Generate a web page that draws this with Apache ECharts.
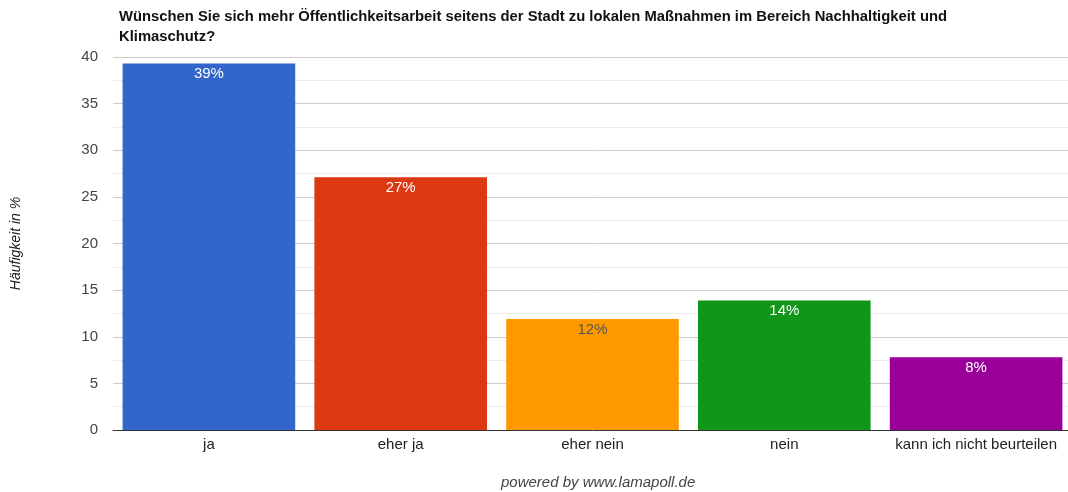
<!DOCTYPE html>
<html>
<head>
<meta charset="utf-8">
<script src="https://cdn.jsdelivr.net/npm/echarts@6/dist/echarts.min.js"></script>
<style>html,body{margin:0;padding:0;background:#fff;overflow:hidden}#c{width:1076px;height:492px}</style>
</head>
<body>
<div id="c"></div>
<script>
const categories = ['ja', 'eher ja', 'eher nein', 'nein', 'kann ich nicht beurteilen'];
const values = [39.3, 27.1, 11.9, 13.9, 7.8];
const colors = ['#3366cc', '#dc3912', '#ff9900', '#109618', '#990099'];
const labelColors = ['#ffffff', '#ffffff', '#555555', '#ffffff', '#ffffff'];
const yTicks = [0, 5, 10, 15, 20, 25, 30, 35, 40];

const font = 'Arial, "Liberation Sans", sans-serif';
const chart = echarts.init(document.getElementById('c'));
chart.setOption({
  animation: false,
  textStyle: { fontFamily: font },
  title: [
    {
      text: 'Wünschen Sie sich mehr Öffentlichkeitsarbeit seitens der Stadt zu lokalen Maßnahmen im Bereich Nachhaltigkeit und\nKlimaschutz?',
      left: 114, top: 2,
      textStyle: { fontSize: 14.8, fontWeight: 'bold', color: '#111', lineHeight: 20, fontFamily: font }
    },
    {
      text: 'powered by www.lamapoll.de',
      left: 496, top: 470,
      textStyle: { fontSize: 15, fontWeight: 'normal', fontStyle: 'italic', color: '#444', fontFamily: font }
    }
  ],
  grid: { left: 113, top: 57, width: 959, height: 373 },
  xAxis: {
    type: 'category',
    data: categories,
    axisLine: { lineStyle: { color: '#333', width: 1 } },
    axisTick: { show: false },
    axisLabel: { color: '#222', fontSize: 15, margin: 7, interval: 0 }
  },
  yAxis: {
    type: 'value',
    min: yTicks[0], max: yTicks[yTicks.length - 1], interval: 5,
    name: 'Häufigkeit in %',
    nameLocation: 'middle', nameGap: 90, nameRotate: 90,
    nameTextStyle: { fontStyle: 'italic', color: '#222', fontSize: 14 },
    axisLine: { show: false },
    axisTick: { show: false },
    axisLabel: { color: '#444', fontSize: 15, margin: 15 },
    splitLine: { lineStyle: { color: '#cccccc' } },
    minorTick: { show: false, splitNumber: 2 },
    minorSplitLine: { show: true, lineStyle: { color: '#ebebeb' } }
  },
  series: [{
    type: 'bar',
    barCategoryGap: '10%',
    data: values.map((v, i) => ({
      value: v,
      itemStyle: { color: colors[i] },
      label: { color: labelColors[i] }
    })),
    label: {
      show: true,
      position: 'insideTop',
      distance: 3,
      fontSize: 15,
      formatter: p => Math.round(p.value) + '%'
    }
  }]
});
</script>
</body>
</html>
